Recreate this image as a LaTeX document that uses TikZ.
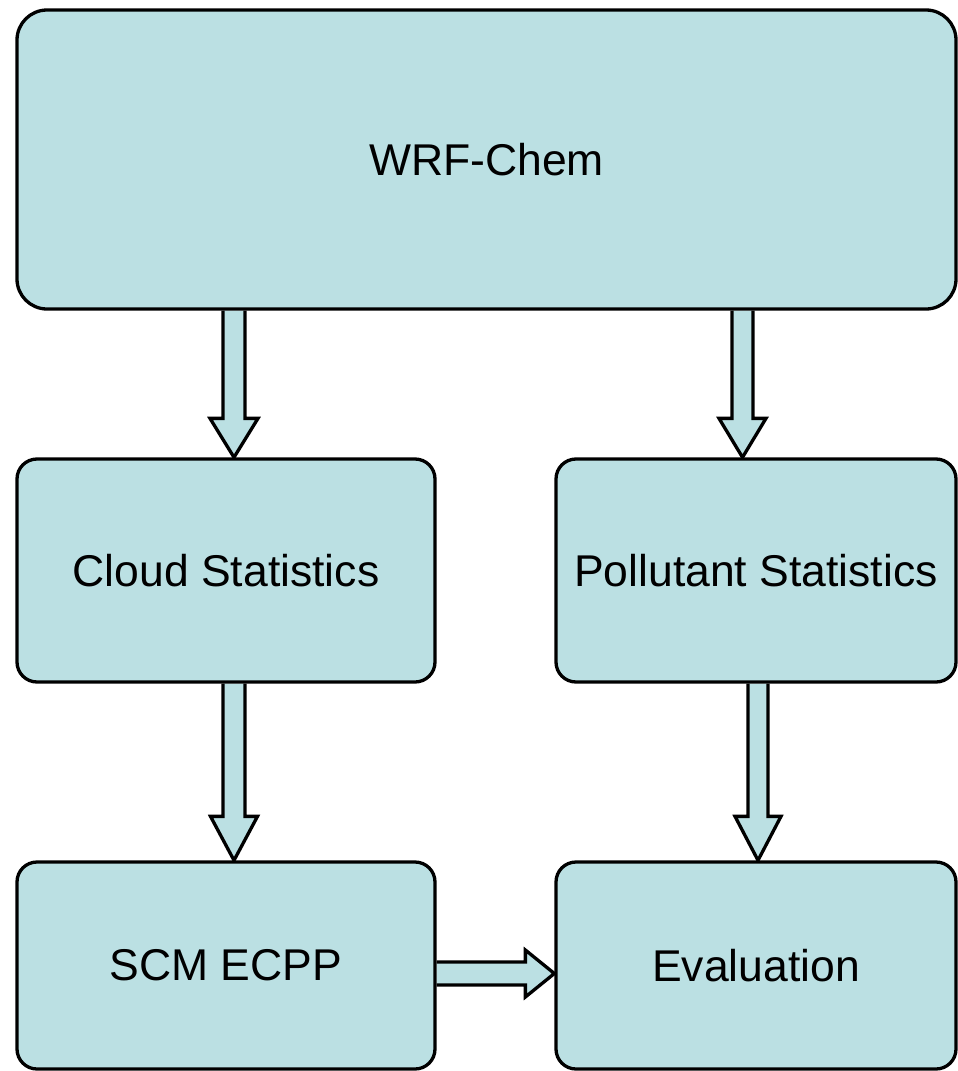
\documentclass[tikz,border=0pt]{standalone}
\usepackage{fontspec}
\setmainfont{Liberation Sans}
\usetikzlibrary{calc,backgrounds}
\definecolor{boxfill}{RGB}{187,224,227}
\tikzset{
  box/.style={draw=black, line width=3.3pt, fill=boxfill, rounded corners=20pt, inner sep=0pt,
    font=\fontsize{44.5}{52}\selectfont},
  arr/.style={draw=black, line width=3.3pt, fill=boxfill, line join=miter}
}
\newcommand\BlockDown[5]{%
  \draw[arr] ($(#1)+(-#3,0)$) -- ($(#2)+(-#3,-#5)$) -- ($(#2)+(-#4,-#5)$) -- (#2)
    -- ($(#2)+(#4,-#5)$) -- ($(#2)+(#3,-#5)$) -- ($(#1)+(#3,0)$);}
\begin{document}
\begin{tikzpicture}[x=1pt,y=-1pt]
\useasboundingbox (0,0) rectangle (958,1071);
\node[box, rounded corners=30pt, minimum width=939pt, minimum height=299pt] (wrf) at (486.5,159.5) {WRF-Chem};
\node[box, minimum width=418pt, minimum height=223pt] (cloud) at (226,570.5) {Cloud Statistics};
\node[box, minimum width=400pt, minimum height=223pt] (poll) at (756,570.5) {Pollutant Statistics};
\node[box, minimum width=418pt, minimum height=207pt] (scm) at (226,965.5) {SCM ECPP};
\node[box, minimum width=400pt, minimum height=207pt] (eval) at (756,965.5) {Evaluation};
\begin{pgfonlayer}{background}
\coordinate (a1s) at (wrf.south -| 234,0);
\coordinate (a1e) at (cloud.north -| 234,0);
\BlockDown{a1s}{a1e}{11}{24}{39}
\coordinate (a2s) at (wrf.south -| 742.5,0);
\coordinate (a2e) at (poll.north -| 742.5,0);
\BlockDown{a2s}{a2e}{10.5}{23.5}{39}
\coordinate (a3s) at (cloud.south -| 234,0);
\coordinate (a3e) at (scm.north -| 234,0);
\BlockDown{a3s}{a3e}{11}{23.5}{44}
\coordinate (a4s) at (poll.south -| 758,0);
\coordinate (a4e) at (eval.north -| 758,0);
\BlockDown{a4s}{a4e}{10}{23}{44}
\coordinate (a5s) at (scm.east |- 0,973.5);
\coordinate (a5e) at (eval.west |- 0,973.5);
\draw[arr] ($(a5s)+(0,-11.5)$) -- ($(a5e)+(-29,-11.5)$) -- ($(a5e)+(-29,-23.5)$) -- (a5e)
  -- ($(a5e)+(-29,23.5)$) -- ($(a5e)+(-29,11.5)$) -- ($(a5s)+(0,11.5)$);
\end{pgfonlayer}
\end{tikzpicture}
\end{document}
